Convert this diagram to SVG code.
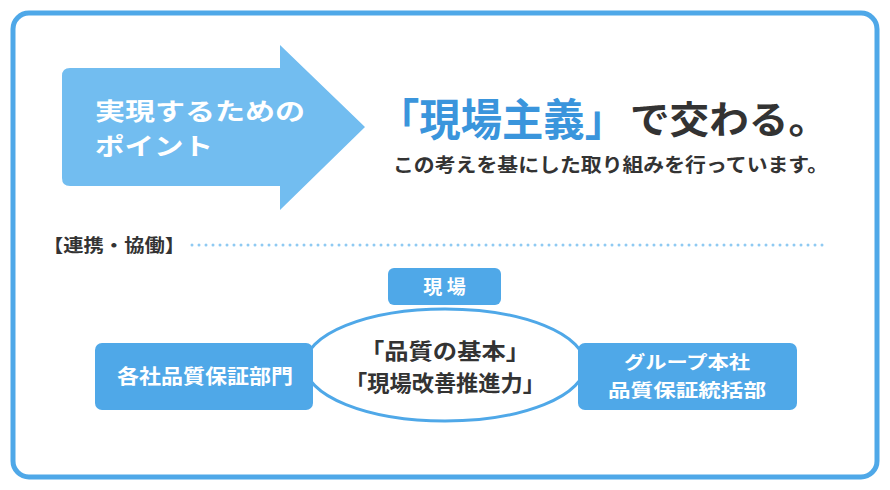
<svg xmlns="http://www.w3.org/2000/svg" width="890" height="490" viewBox="0 0 890 490">
<style>
.w{font-family:"Noto Sans CJK JP","Noto Sans CJK SC",sans-serif;font-weight:bold;fill:#fff}
.d{font-family:"Noto Sans CJK JP","Noto Sans CJK SC",sans-serif;font-weight:bold;fill:#333}
.box{fill:#4fa8e8}
</style>
<rect x="13" y="13" width="864" height="464" rx="16" fill="#fff" stroke="#4fa8e8" stroke-width="5"/>
<g id="arrow">
<path d="M70,68 H280 V45 L365,127 L280,210 V186 H70 Q62,186 62,178 V76 Q62,68 70,68 Z" fill="#72bdf0"/>
<text class="w" x="95" y="120" font-size="24" textLength="210" lengthAdjust="spacingAndGlyphs">実現するための</text>
<text class="w" x="95" y="155" font-size="24" textLength="118" lengthAdjust="spacingAndGlyphs">ポイント</text>
</g>
<g id="title">
<text x="378" y="136" font-family="Noto Sans CJK JP,sans-serif" font-weight="bold" font-size="44" fill="#3a95dc" textLength="248" lengthAdjust="spacingAndGlyphs">「現場主義」</text>
<text x="630" y="133" font-family="Noto Sans CJK JP,sans-serif" font-weight="bold" font-size="38" fill="#333" textLength="198" lengthAdjust="spacingAndGlyphs">で交わる。</text>
<text class="d" x="393" y="172" font-size="19" textLength="435" lengthAdjust="spacingAndGlyphs">この考えを基にした取り組みを行っています。</text>
</g>
<g id="section">
<text class="d" x="43" y="252" font-size="18" textLength="142" lengthAdjust="spacingAndGlyphs">【連携・協働】</text>
<line x1="192" y1="245" x2="826" y2="245" stroke="#8fcaf2" stroke-width="3" stroke-linecap="round" stroke-dasharray="0 7"/>
</g>
<g id="center">
<ellipse cx="445" cy="365" rx="140" ry="56" fill="#fff" stroke="#4fa8e8" stroke-width="3"/>
<text class="d" x="445" y="359" font-size="22" text-anchor="middle" textLength="170" lengthAdjust="spacingAndGlyphs">「品質の基本」</text>
<text class="d" x="445" y="391" font-size="22" text-anchor="middle" textLength="200" lengthAdjust="spacingAndGlyphs">「現場改善推進力」</text>
</g>
<g id="genba">
<rect class="box" x="388" y="268" width="113" height="37" rx="6"/>
<text class="w" x="444.5" y="294" font-size="19" text-anchor="middle">現 場</text>
</g>
<g id="left">
<rect class="box" x="95" y="343" width="218" height="67" rx="7"/>
<text class="w" x="205" y="384" font-size="20" text-anchor="middle" textLength="176" lengthAdjust="spacingAndGlyphs">各社品質保証部門</text>
</g>
<g id="right">
<rect class="box" x="578" y="343" width="219" height="67" rx="7"/>
<text class="w" x="687" y="369" font-size="18" text-anchor="middle" textLength="126" lengthAdjust="spacingAndGlyphs">グループ本社</text>
<text class="w" x="687" y="397" font-size="18" text-anchor="middle" textLength="158" lengthAdjust="spacingAndGlyphs">品質保証統括部</text>
</g>
</svg>
